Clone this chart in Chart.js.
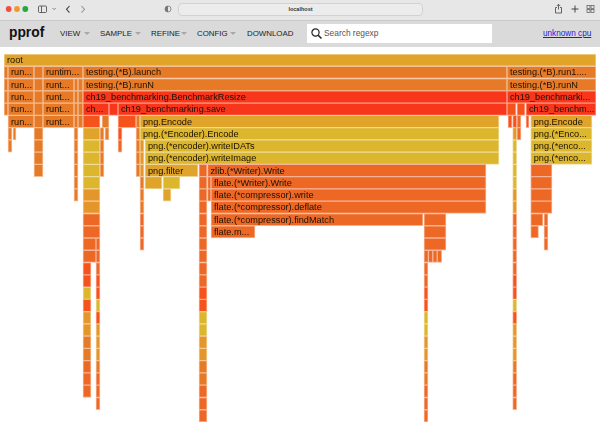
<!DOCTYPE html>
<html>
<head>
<meta charset="utf-8">
<title>pprof</title>
<script src="https://cdn.jsdelivr.net/npm/chart.js"></script>
<style>
  html, body { margin: 0; padding: 0; background: #fff; overflow: hidden; }
  body { width: 600px; height: 429px; position: relative; font-family: "Liberation Sans", Arial, sans-serif; }
  #safari { position: absolute; left: 0; top: 0; width: 600px; height: 20px; background: #e7e7e7; border-bottom: 1px solid #c9c9c9; }
  #nav { position: absolute; left: 0; top: 21px; width: 600px; height: 26px; background: #dadada; }
  #safari svg { position: absolute; left: 0; top: 0; }
  #url { position: absolute; left: 178px; top: 3px; width: 243px; height: 11px; border: 1px solid #d2d2d2; border-radius: 4px; background: #ececec;
         font-size: 5.5px; line-height: 11px; text-align: center; color: #333; font-weight: bold; }
  .t { position: absolute; white-space: nowrap; color: #1c1c1c; }
  .menu { font-size: 7.9px; top: 27.5px; line-height: 12px; }
  .caret { position: absolute; top: 32px; width: 0; height: 0; border-left: 3px solid transparent; border-right: 3px solid transparent; border-top: 3px solid #a8a8a8; }
  #logo { left: 9px; top: 23px; font-size: 13.8px; font-weight: bold; line-height: 20px; color: #111; }
  #search { position: absolute; left: 307px; top: 24px; width: 185px; height: 19px; background: #fff; }
  #searchText { left: 324px; top: 27px; font-size: 8.4px; line-height: 13px; color: #555; }
  #cpu { left: 543px; top: 28px; font-size: 8.2px; line-height: 12px; color: #1a1ae0; text-decoration: underline; }
  #flame { position: absolute; left: 4px; top: 54px; }
</style>
</head>
<body>
<div id="safari">
  <svg width="600" height="20">
    <circle cx="8.7" cy="9" r="2.9" fill="#ee4f45"/>
    <circle cx="17" cy="9" r="2.9" fill="#ef9a2c"/>
    <circle cx="25.3" cy="9" r="2.9" fill="#27a83f"/>
    <rect x="38.5" y="6" width="8" height="6.5" rx="1" fill="none" stroke="#555" stroke-width="0.9"/>
    <line x1="41.5" y1="6" x2="41.5" y2="12.5" stroke="#555" stroke-width="0.9"/>
    <path d="M52.5 8 l1.6 1.6 l1.6 -1.6" fill="none" stroke="#666" stroke-width="0.8"/>
    <path d="M69.5 6 l-3 3.3 l3 3.3" fill="none" stroke="#444" stroke-width="1.1"/>
    <path d="M81.5 6 l3 3.3 l-3 3.3" fill="none" stroke="#999" stroke-width="1.1"/>
    <circle cx="168" cy="9" r="3" fill="#e6e6e6" stroke="#777" stroke-width="0.8"/>
    <path d="M168 6 a3 3 0 0 0 0 6 z" fill="#777"/>
    <path d="M419 8.2 a2.6 2.6 0 1 0 -0.4 2.4" transform="translate(-1 0)" fill="none" stroke="#666" stroke-width="0.7"/>
    <path d="M557 7.5 h-1.5 v5.5 h6 v-5.5 h-1.5 M558.5 9.5 v-5 M556.8 6 l1.7 -1.7 l1.7 1.7" fill="none" stroke="#444" stroke-width="0.8"/>
    <path d="M575 5.5 v7 M571.5 9 h7" stroke="#444" stroke-width="1"/>
    <rect x="587" y="5.5" width="3" height="3" fill="none" stroke="#555" stroke-width="0.7"/>
    <rect x="591" y="5.5" width="3" height="3" fill="none" stroke="#555" stroke-width="0.7"/>
    <rect x="587" y="9.5" width="3" height="3" fill="none" stroke="#555" stroke-width="0.7"/>
    <rect x="591" y="9.5" width="3" height="3" fill="none" stroke="#555" stroke-width="0.7"/>
  </svg>
  <div id="url">localhost</div>
</div>
<div id="nav"></div>
<div class="t" id="logo">pprof</div>
<div class="t menu" style="left:60px">VIEW</div><div class="caret" style="left:84px"></div>
<div class="t menu" style="left:100px">SAMPLE</div><div class="caret" style="left:135px"></div>
<div class="t menu" style="left:151px">REFINE</div><div class="caret" style="left:181px"></div>
<div class="t menu" style="left:197px">CONFIG</div><div class="caret" style="left:230px"></div>
<div class="t menu" style="left:247px">DOWNLOAD</div>
<div id="search"></div>
<svg style="position:absolute;left:310px;top:27px" width="14" height="14">
  <circle cx="5.5" cy="5.5" r="3.6" fill="none" stroke="#222" stroke-width="1.2"/>
  <line x1="8.2" y1="8.2" x2="11.5" y2="11.5" stroke="#222" stroke-width="1.5"/>
</svg>
<div class="t" id="searchText">Search regexp</div>
<a class="t" id="cpu">unknown cpu</a>
<canvas id="flame" width="592" height="368"></canvas>

<script>
// frames per stack depth: [start, end, heat, name], x in samples
const row00 = [[0, 592, 0, "root"]];
const row01 = [[0, 4, 3], [4, 30, 3, "run..."], [30, 39, 3], [39, 79, 3, "runtim..."], [79, 503, 3, "testing.(*B).launch"], [503, 592, 3, "testing.(*B).run1...."]];
const row02 = [[0, 4, 3], [4, 30, 3, "run..."], [30, 39, 3], [39, 70, 3, "runt..."], [70, 74, 3], [74, 79, 3], [79, 503, 3, "testing.(*B).runN"], [503, 592, 3, "testing.(*B).runN"]];
const row03 = [[0, 4, 3], [4, 30, 3, "run..."], [30, 39, 3], [39, 70, 3, "runt..."], [70, 74, 3], [74, 79, 3], [79, 503, 6, "ch19_benchmarking.BenchmarkResize"], [503, 592, 6, "ch19_benchmarki..."]];
const row04 = [[0, 4, 3], [4, 30, 3, "run..."], [30, 39, 3], [39, 70, 3, "runt..."], [70, 74, 3], [74, 79, 3], [79, 105, 6, "ch..."], [105, 114, 6], [114, 503, 6, "ch19_benchmarking.save"], [503, 512, 5], [513, 521, 5], [522, 592, 6, "ch19_benchm..."]];
const row05 = [[4, 30, 3, "run..."], [30, 39, 3], [39, 70, 3, "runt..."], [70, 74, 3], [74, 79, 3], [79, 96, 5], [98, 105, 3], [114, 132, 5], [132, 136, 3], [136, 495, 0, "png.Encode"], [504, 508, 5], [508.7, 512.7, 5], [513, 517, 4], [522, 525, 5], [526.7, 588, 0, "png.Encode"]];
const row06 = [[4, 8, 3], [9, 12, 3], [30, 39, 3], [70, 74, 3], [79, 96, 0], [96, 100, 3], [101, 105, 3], [114, 118, 5], [132, 136, 3], [136, 495, 1, "png.(*Encoder).Encode"], [508.7, 512.7, 2], [513, 517, 4], [526.7, 588, 1, "png.(*Enco..."]];
const row07 = [[4, 8, 3], [30, 39, 3], [70, 74, 3], [79, 96, 1], [96, 100, 3], [114, 118, 4], [132, 136, 3], [136, 140, 2], [141, 495, 1, "png.(*encoder).writeIDATs"], [508.7, 512.7, 1], [526.7, 588, 1, "png.(*enco..."]];
const row08 = [[30, 39, 3], [70, 74, 3], [79, 96, 1], [96, 100, 3], [132, 136, 3], [136, 140, 2], [141, 495, 1, "png.(*encoder).writeImage"], [508.7, 512.7, 1], [526.7, 588, 1, "png.(*enco..."]];
const row09 = [[30, 39, 3], [70, 74, 3], [79, 96, 1], [96, 100, 3], [132, 136, 3], [136, 140, 2], [141, 194, 0, "png.filter"], [195, 203, 4], [203.5, 482, 4, "zlib.(*Writer).Write"], [508.7, 512.7, 1], [526.7, 548, 4]];
const row10 = [[70, 74, 3], [79, 96, 1], [136, 140, 3], [141, 158, 0], [159, 176, 1], [195, 203, 4], [203.5, 207, 4], [207, 482, 4, "flate.(*Writer).Write"], [508.7, 512.7, 1], [526.7, 548, 4]];
const row11 = [[70, 74, 3], [79, 96, 2], [136, 140, 3], [159, 167, 0], [195, 203, 4], [203.5, 207, 4], [207, 482, 4, "flate.(*compressor).write"], [508.7, 512.7, 2], [526.7, 548, 4]];
const row12 = [[79, 96, 2], [136, 140, 3], [195, 203, 4], [207, 482, 4, "flate.(*compressor).deflate"], [508.7, 512.7, 2], [526.7, 548, 4]];
const row13 = [[79, 96, 4], [136, 140, 4], [195, 203, 4], [207, 419, 4, "flate.(*compressor).findMatch"], [420, 442, 4], [508.7, 512.7, 4], [526.7, 539, 4], [540, 544, 4]];
const row14 = [[79, 96, 4], [136, 140, 4], [195, 203, 4], [207, 251, 4, "flate.m..."], [420, 442, 4], [508.7, 512.7, 4], [526.7, 534.5, 4], [540, 544, 4]];
const row15 = [[79, 92, 4], [92, 96, 4], [136, 140, 4], [195, 203, 4], [420, 442, 4], [508.7, 512.7, 4], [540, 544, 4]];
const row16 = [[79, 92, 4], [92, 96, 4], [195, 203, 4], [420, 424.4, 4], [424.4, 428.8, 4], [428.8, 433.2, 4], [433.2, 437.7, 4], [508.7, 512.7, 4]];
const row17 = [[79, 87, 5], [92, 96, 4], [195, 203, 4], [420, 424, 4], [508.7, 512.7, 4]];
const row18 = [[79, 87, 5], [92, 96, 5], [195, 203, 4], [420, 424, 4], [508.7, 512.7, 5]];
const row19 = [[79, 87, 1], [92, 96, 5], [195, 203, 5], [420, 424, 5], [508.7, 512.7, 5]];
const row20 = [[79, 87, 5], [92, 96, 1], [195, 203, 5], [420, 424, 5], [508.7, 512.7, 1]];
const row21 = [[79, 87, 2], [92, 96, 5], [195, 203, 1], [420, 424, 1], [508.7, 512.7, 5]];
const row22 = [[79, 87, 2], [92, 96, 2], [195, 203, 1], [420, 424, 1], [508.7, 512.7, 2]];
const row23 = [[79, 87, 3], [92, 96, 2], [195, 203, 2], [420, 424, 2], [508.7, 512.7, 2]];
const row24 = [[79, 87, 3], [92, 96, 2], [195, 203, 2], [420, 424, 2], [508.7, 512.7, 2]];
const row25 = [[79, 87, 4], [92, 96, 3], [195, 203, 3], [420, 424, 3], [508.7, 512.7, 3]];
const row26 = [[79, 87, 4], [92, 96, 4], [195, 203, 3], [420, 424, 3], [508.7, 512.7, 4]];
const row27 = [[79, 87, 4], [92, 96, 4], [195, 203, 4], [420, 424, 4], [508.7, 512.7, 4]];
const row28 = [[92, 96, 4], [195, 203, 4], [420, 424, 4], [508.7, 512.7, 4]];
const row29 = [[195, 203, 4], [420, 424, 4]];

const rows = [row00, row01, row02, row03, row04, row05, row06, row07, row08, row09,
  row10, row11, row12, row13, row14, row15, row16, row17, row18, row19,
  row20, row21, row22, row23, row24, row25, row26, row27, row28, row29];

var heatColors = ["#e0a42a", "#dcb62c", "#e5962a", "#e77a26", "#ec6824", "#f5521c", "#f8361c"];
var heatEdges = ["#f0d496", "#efdc98", "#f3cc96", "#f4be96", "#f7b396", "#fbaa8e", "#fc9e8a"];

var frames = [];
rows.forEach(function (row, depth) {
  row.forEach(function (f) {
    frames.push({ x: [f[0], f[1]], y: String(depth), heat: f[2], name: f[3] });
  });
});

// names are drawn on top of the bars, the library has no bar text of its own
var frameNames = {
  id: "frameNames",
  afterDatasetsDraw: function (chart) {
    var ctx = chart.ctx, xs = chart.scales.x, ys = chart.scales.y;
    ctx.save();
    ctx.font = "9.2px 'Liberation Sans', Arial, sans-serif";
    ctx.fillStyle = "#1a1208";
    ctx.textBaseline = "middle";
    frames.forEach(function (f) {
      if (!f.name) return;
      ctx.fillText(f.name, xs.getPixelForValue(f.x[0]) + 3, ys.getPixelForValue(f.y) + 0.5);
    });
    ctx.restore();
  }
};

new Chart("flame", {
  type: "bar",
  data: {
    labels: rows.map(function (r, i) { return String(i); }),
    datasets: [{
      data: frames,
      backgroundColor: function (c) { return c.raw ? heatColors[c.raw.heat] : "#000"; },
      borderColor: function (c) { return c.raw ? heatEdges[c.raw.heat] : "#000"; },
      borderWidth: 1,
      borderSkipped: false,
      barPercentage: 1,
      categoryPercentage: 1
    }]
  },
  options: {
    indexAxis: "y",
    responsive: false,
    animation: false,
    layout: { padding: 0 },
    plugins: { legend: { display: false }, tooltip: { enabled: false } },
    scales: {
      x: { type: "linear", min: 0, max: 592, display: false },
      y: { type: "category", display: false }
    }
  },
  plugins: [frameNames]
});
</script>
</body>
</html>
